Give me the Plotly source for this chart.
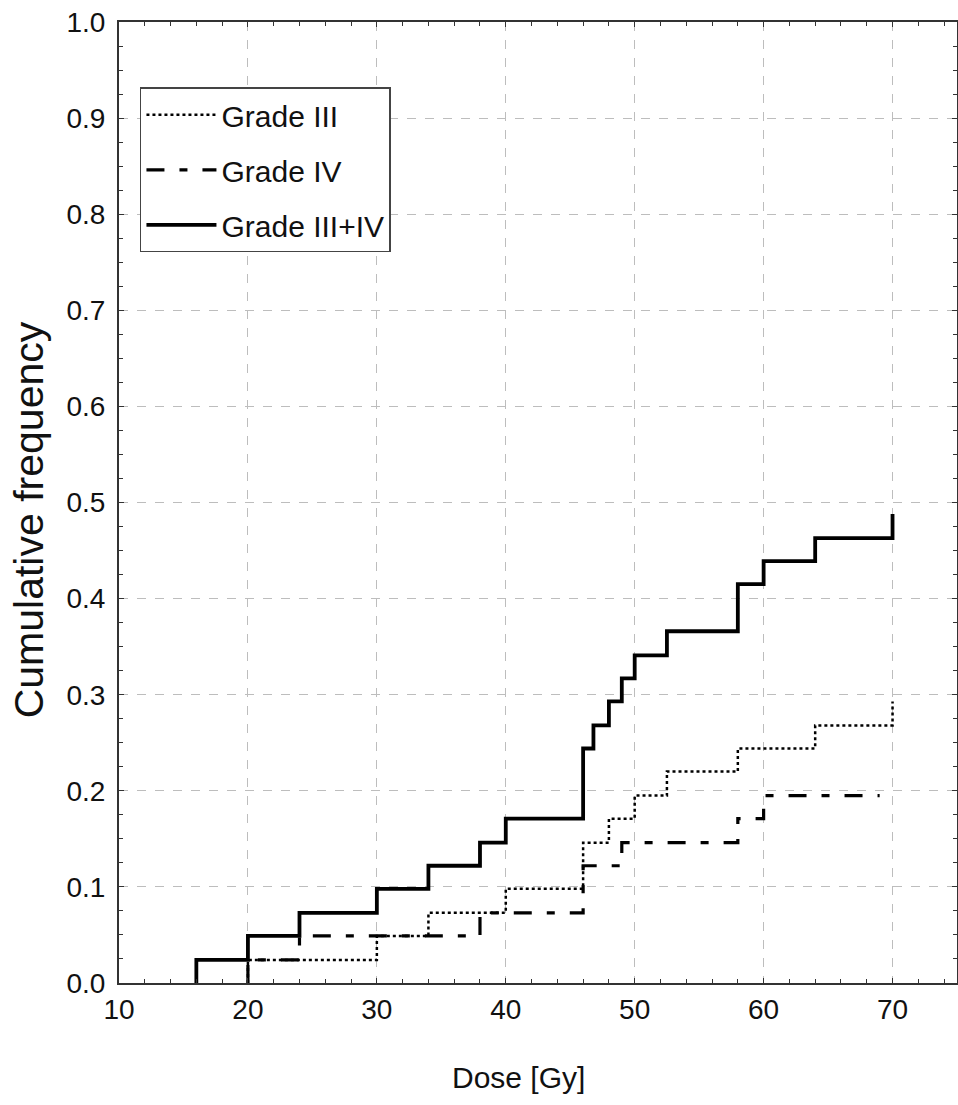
import plotly.graph_objects as go

# Dose [Gy] at each step and cumulative frequency after the step
dose_all = [16, 16, 20, 24, 30, 34, 38, 40, 46, 46.8, 48, 49, 50, 52.5, 58, 60, 64, 70]
freq_all = [0.0, 0.024, 0.049, 0.073, 0.098, 0.122, 0.146, 0.171, 0.244, 0.268, 0.293,
            0.317, 0.341, 0.366, 0.415, 0.439, 0.463, 0.488]

dose_g3 = [20, 20, 30, 34, 40, 46, 48, 50, 52.5, 58, 64, 70]
freq_g3 = [0.0, 0.024, 0.049, 0.073, 0.098, 0.146, 0.171, 0.195, 0.220, 0.244, 0.268, 0.293]

dose_g4 = [20, 20, 24, 38, 46, 49, 58, 60, 69]
freq_g4 = [0.0, 0.024, 0.049, 0.073, 0.122, 0.146, 0.171, 0.195, 0.195]

names = ["Grade III", "Grade IV", "Grade III+IV"]
x_ticks = [10, 20, 30, 40, 50, 60, 70]
y_ticks = [0.0, 0.1, 0.2, 0.3, 0.4, 0.5, 0.6, 0.7, 0.8, 0.9, 1.0]
x_title = "Dose [Gy]"
y_title = "Cumulative frequency"

FONT = "Liberation Sans, Arial, sans-serif"

fig = go.Figure()
fig.add_trace(go.Scatter(x=dose_g3, y=freq_g3, name=names[0], mode="lines",
                         line=dict(shape="hv", color="black", width=2.5, dash="dot"),
                         legendgroup="a"))
fig.add_trace(go.Scatter(x=dose_g4, y=freq_g4, name=names[1], mode="lines",
                         line=dict(shape="hv", color="black", width=3.2,
                                   dash="18px,15px,8px,15px"),
                         legendgroup="b"))
fig.add_trace(go.Scatter(x=dose_all, y=freq_all, name=names[2], mode="lines",
                         line=dict(shape="hv", color="black", width=3.8),
                         legendgroup="c"))

axis_common = dict(
    showline=True, linecolor="#333333", linewidth=2,
    mirror="allticks", ticks="inside", ticklen=5, tickcolor="#333333",
    showgrid=True, gridcolor="#bdbdbd", gridwidth=1, griddash="dash",
    zeroline=False,
    tickfont=dict(family=FONT, size=28, color="#111111"),
)

fig.update_xaxes(
    range=[10, 75], tickvals=x_ticks, ticktext=[str(v) for v in x_ticks],
    minor=dict(dtick=2, tick0=10, ticks="inside", ticklen=4, tickcolor="#333333", showgrid=False),
    **axis_common,
)
fig.update_yaxes(
    range=[0, 1.0], tickvals=y_ticks, ticktext=[f"{v:.1f}" for v in y_ticks],
    minor=dict(dtick=0.025, tick0=0, ticks="inside", ticklen=4, tickcolor="#333333", showgrid=False),
    ticklabelstandoff=6,
    **axis_common,
)

fig.add_annotation(text=x_title, xref="paper", yref="paper", x=0.477, y=-0.098,
                   xanchor="center", yanchor="middle", showarrow=False,
                   font=dict(family=FONT, size=30, color="#111111"))
fig.add_annotation(text=y_title, xref="paper", yref="paper", x=-0.108, y=0.482,
                   xanchor="center", yanchor="middle", showarrow=False, textangle=-90,
                   font=dict(family=FONT, size=41, color="#111111"))

fig.update_layout(
    width=958, height=1105, autosize=False,
    margin=dict(l=119, r=1, t=22, b=122, autoexpand=False),
    plot_bgcolor="white", paper_bgcolor="white",
    showlegend=True,
    legend=dict(
        x=0.025, y=0.932, xanchor="left", yanchor="top",
        bgcolor="white", bordercolor="#444444", borderwidth=1.5,
        font=dict(family=FONT, size=30, color="#111111"),
        tracegroupgap=13, itemwidth=70, traceorder="grouped",
    ),
)

post = ("document.body.style.margin='0px';"
        "document.body.style.padding='0px';"
        "var gd=document.getElementById('{plot_id}');"
        "Plotly.relayout(gd,{width:958,height:1105});")

fig.write_html("out.html", config={"responsive": False, "displayModeBar": False},
               post_script=post)
